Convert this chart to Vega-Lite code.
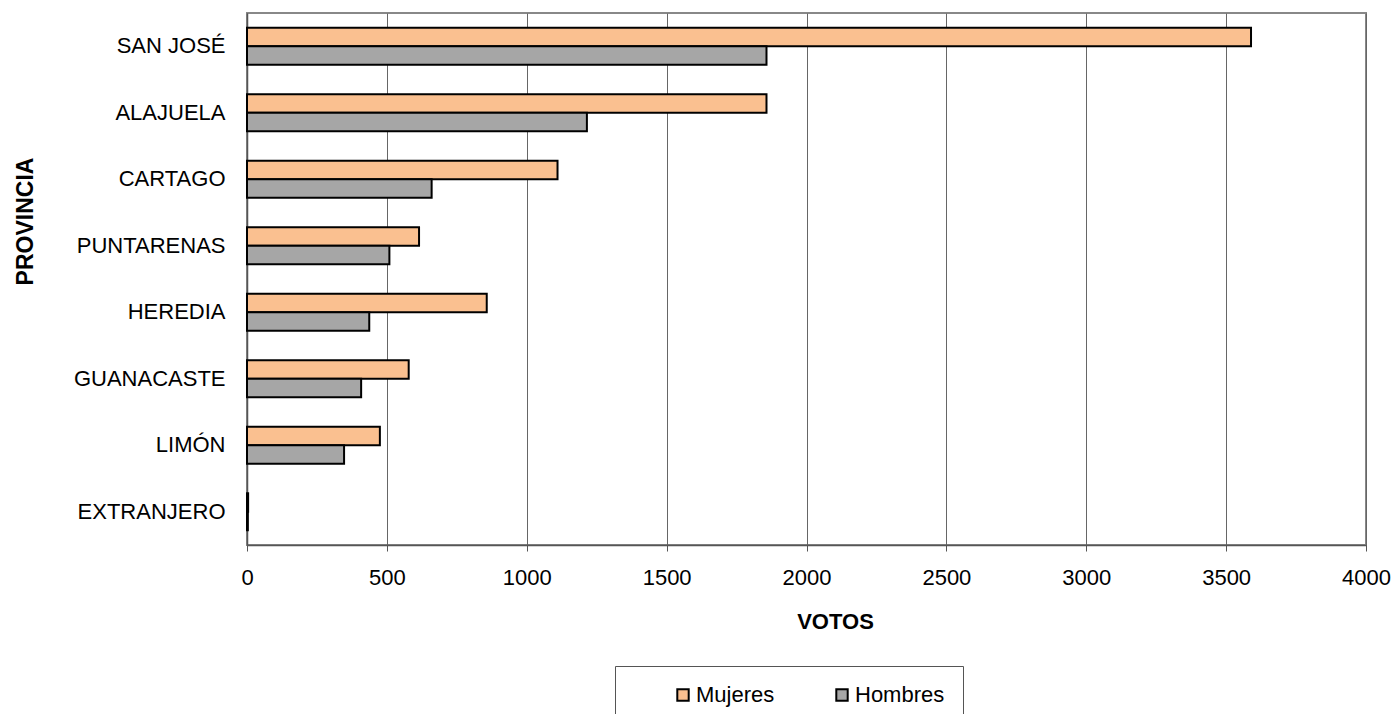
{
  "$schema": "https://vega.github.io/schema/vega-lite/v6.json",
  "autosize": "none",
  "width": 1119,
  "height": 532,
  "padding": {"left": 247, "top": 13, "right": 30, "bottom": 169},
  "background": "white",
  "config": {
    "font": "Liberation Sans",
    "view": {"stroke": "#888888", "strokeWidth": 2},
    "axis": {"labelFont": "Liberation Sans", "titleFont": "Liberation Sans", "labelColor": "black", "titleColor": "black"}
  },
  "data": {
    "values": [
      {"Provincia": "SAN JOSÉ", "Sexo": "Mujeres", "Votos": 3589},
      {"Provincia": "SAN JOSÉ", "Sexo": "Hombres", "Votos": 1857},
      {"Provincia": "ALAJUELA", "Sexo": "Mujeres", "Votos": 1857},
      {"Provincia": "ALAJUELA", "Sexo": "Hombres", "Votos": 1215},
      {"Provincia": "CARTAGO", "Sexo": "Mujeres", "Votos": 1110},
      {"Provincia": "CARTAGO", "Sexo": "Hombres", "Votos": 660},
      {"Provincia": "PUNTARENAS", "Sexo": "Mujeres", "Votos": 615},
      {"Provincia": "PUNTARENAS", "Sexo": "Hombres", "Votos": 509},
      {"Provincia": "HEREDIA", "Sexo": "Mujeres", "Votos": 857},
      {"Provincia": "HEREDIA", "Sexo": "Hombres", "Votos": 437},
      {"Provincia": "GUANACASTE", "Sexo": "Mujeres", "Votos": 578},
      {"Provincia": "GUANACASTE", "Sexo": "Hombres", "Votos": 408},
      {"Provincia": "LIMÓN", "Sexo": "Mujeres", "Votos": 475},
      {"Provincia": "LIMÓN", "Sexo": "Hombres", "Votos": 347},
      {"Provincia": "EXTRANJERO", "Sexo": "Mujeres", "Votos": 4},
      {"Provincia": "EXTRANJERO", "Sexo": "Hombres", "Votos": 3}
    ]
  },
  "mark": {"type": "bar", "stroke": "black", "strokeWidth": 2},
  "encoding": {
    "y": {
      "field": "Provincia",
      "type": "nominal",
      "sort": ["SAN JOSÉ", "ALAJUELA", "CARTAGO", "PUNTARENAS", "HEREDIA", "GUANACASTE", "LIMÓN", "EXTRANJERO"],
      "scale": {"paddingInner": 0.444, "paddingOuter": 0.222},
      "axis": {
        "title": "PROVINCIA",
        "titleFontSize": 23,
        "titleFontWeight": "bold",
        "titleAngle": 270,
        "titleAlign": "center",
        "titleBaseline": "middle",
        "titleX": -222,
        "titleY": 208,
        "labelFontSize": 22,
        "labelPadding": 22,
        "ticks": false,
        "domain": true,
        "domainColor": "#555555",
        "domainWidth": 1.5
      }
    },
    "yOffset": {"field": "Sexo", "type": "nominal", "sort": ["Mujeres", "Hombres"]},
    "x": {
      "field": "Votos",
      "type": "quantitative",
      "scale": {"domain": [0, 4000], "nice": false},
      "axis": {
        "title": "VOTOS",
        "titleFontSize": 22,
        "titleFontWeight": "bold",
        "titleX": 588,
        "titleY": 76,
        "titleBaseline": "middle",
        "values": [0, 500, 1000, 1500, 2000, 2500, 3000, 3500, 4000],
        "format": "d",
        "labelFlush": false,
        "labelFontSize": 22,
        "labelPadding": 16,
        "tickSize": 6,
        "tickColor": "#555555",
        "domainColor": "#555555",
        "domainWidth": 1.5,
        "grid": true,
        "gridColor": "#666666",
        "gridWidth": 1
      }
    },
    "color": {
      "field": "Sexo",
      "type": "nominal",
      "scale": {"domain": ["Mujeres", "Hombres"], "range": ["#FAC090", "#A6A6A6"]},
      "legend": {
        "title": null,
        "orient": "none",
        "legendX": 368,
        "legendY": 653,
        "direction": "horizontal",
        "padding": 18,
        "symbolOffset": 39,
        "strokeColor": "#555555",
        "fillColor": "white",
        "symbolType": "square",
        "symbolSize": 130,
        "symbolStrokeColor": "black",
        "symbolStrokeWidth": 2,
        "symbolOpacity": 1,
        "labelFontSize": 22,
        "labelFont": "Liberation Sans",
        "labelColor": "black",
        "labelOffset": 2,
        "columnPadding": 17
      }
    }
  }
}
